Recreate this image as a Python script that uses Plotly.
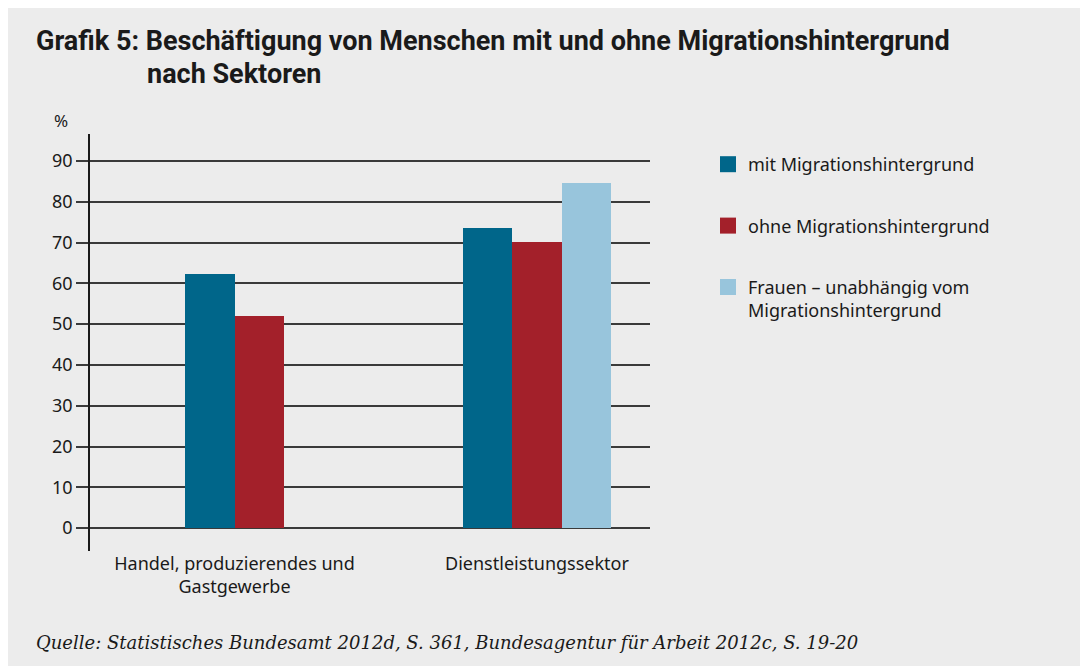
import plotly.graph_objects as go

# ---- data ----
categories = ["Handel, produzierendes und<br>Gastgewerbe", "Dienstleistungssektor"]
series_names = ["mit Migrationshintergrund", "ohne Migrationshintergrund",
                "Frauen – unabhängig vom<br>Migrationshintergrund"]
mit_values = [62.3, 73.6]
ohne_values = [52.0, 70.2]
frauen_values = [None, 84.6]
y_ticks = [0, 10, 20, 30, 40, 50, 60, 70, 80, 90]

colors = ["#00668a", "#a3202a", "#98c5dc"]
BG = "#ececec"
TXT = "#1a1a1a"
FONT = "Noto Sans"

W, H = 1088, 666
OFF = 8  # page body margin
ML, MR, MT, MB = 82, 446, 126, 123
PW, PH = W - ML - MR, H - MT - MB


def px_x(p):
    return (p - OFF - ML) / PW


def px_y(p):
    return (H - MB - (p - OFF)) / PH


bar_w = 0.1636
series = [mit_values, ohne_values, frauen_values]

n_present = [sum(1 for s in series if s[i] is not None) for i in range(len(categories))]

fig = go.Figure()
slot = [0] * len(categories)
for name, vals, col in zip(series_names, series, colors):
    xs, ys, offs = [], [], []
    for i, v in enumerate(vals):
        if v is None:
            continue
        xs.append(i)
        ys.append(v)
        offs.append(-n_present[i] * bar_w / 2 + slot[i] * bar_w)
        slot[i] += 1
    fig.add_trace(go.Bar(x=xs, y=ys, offset=offs, width=bar_w,
                         marker=dict(color=col, line=dict(width=0)),
                         showlegend=False, hoverinfo="skip"))
    fig.add_trace(go.Scatter(x=[None], y=[None], mode="markers", name=name,
                             legendgroup=name,
                             marker=dict(symbol="square", size=16, color=col)))

fig.update_layout(
    width=W, height=H,
    margin=dict(l=ML, r=MR, t=MT, b=MB, autoexpand=False),
    paper_bgcolor=BG, plot_bgcolor=BG,
    font=dict(family=FONT, size=18, color=TXT),
    bargap=0,
    xaxis=dict(range=[-0.4777, 1.3736], tickmode="array",
               tickvals=list(range(len(categories))), ticktext=categories,
               showgrid=False, zeroline=False, showline=False, ticks="",
               fixedrange=True),
    yaxis=dict(range=[-5.6, 96.6], tickmode="array", tickvals=y_ticks,
               showgrid=True, gridcolor="#3a3a3a", gridwidth=1.5,
               zeroline=False, showline=True, linecolor="#1a1a1a", linewidth=1.5,
               ticks="outside", ticklen=12, tickcolor="#3a3a3a", tickwidth=1.5,
               fixedrange=True),
    legend=dict(x=px_x(708), y=px_y(146), xanchor="left", yanchor="top",
                bgcolor="rgba(0,0,0,0)", tracegroupgap=35, valign="top",
                traceorder="grouped", font=dict(size=18, family=FONT, color=TXT),
                itemclick=False, itemdoubleclick=False),
    annotations=[
        dict(text="<b>Grafik 5: Beschäftigung von Menschen mit und ohne Migrationshintergrund</b>",
             x=px_x(34), y=px_y(41), xref="paper", yref="paper",
             xanchor="left", yanchor="middle", showarrow=False, align="left",
             font=dict(family="Roboto", size=27, color=TXT)),
        dict(text="<b>nach Sektoren</b>",
             x=px_x(145), y=px_y(74), xref="paper", yref="paper",
             xanchor="left", yanchor="middle", showarrow=False, align="left",
             font=dict(family="Roboto", size=27, color=TXT)),
        dict(text="%", x=px_x(61), y=px_y(121), xref="paper", yref="paper",
             xanchor="center", yanchor="middle", showarrow=False,
             font=dict(family=FONT, size=17, color=TXT)),
        dict(text="<i>Quelle: Statistisches Bundesamt 2012d, S. 361, Bundesagentur für Arbeit 2012c, S. 19-20</i>",
             x=px_x(34), y=px_y(642), xref="paper", yref="paper",
             xanchor="left", yanchor="middle", showarrow=False, align="left",
             font=dict(family="DejaVu Serif", size=18, color=TXT)),
    ],
)

fig.write_html("out.html")
